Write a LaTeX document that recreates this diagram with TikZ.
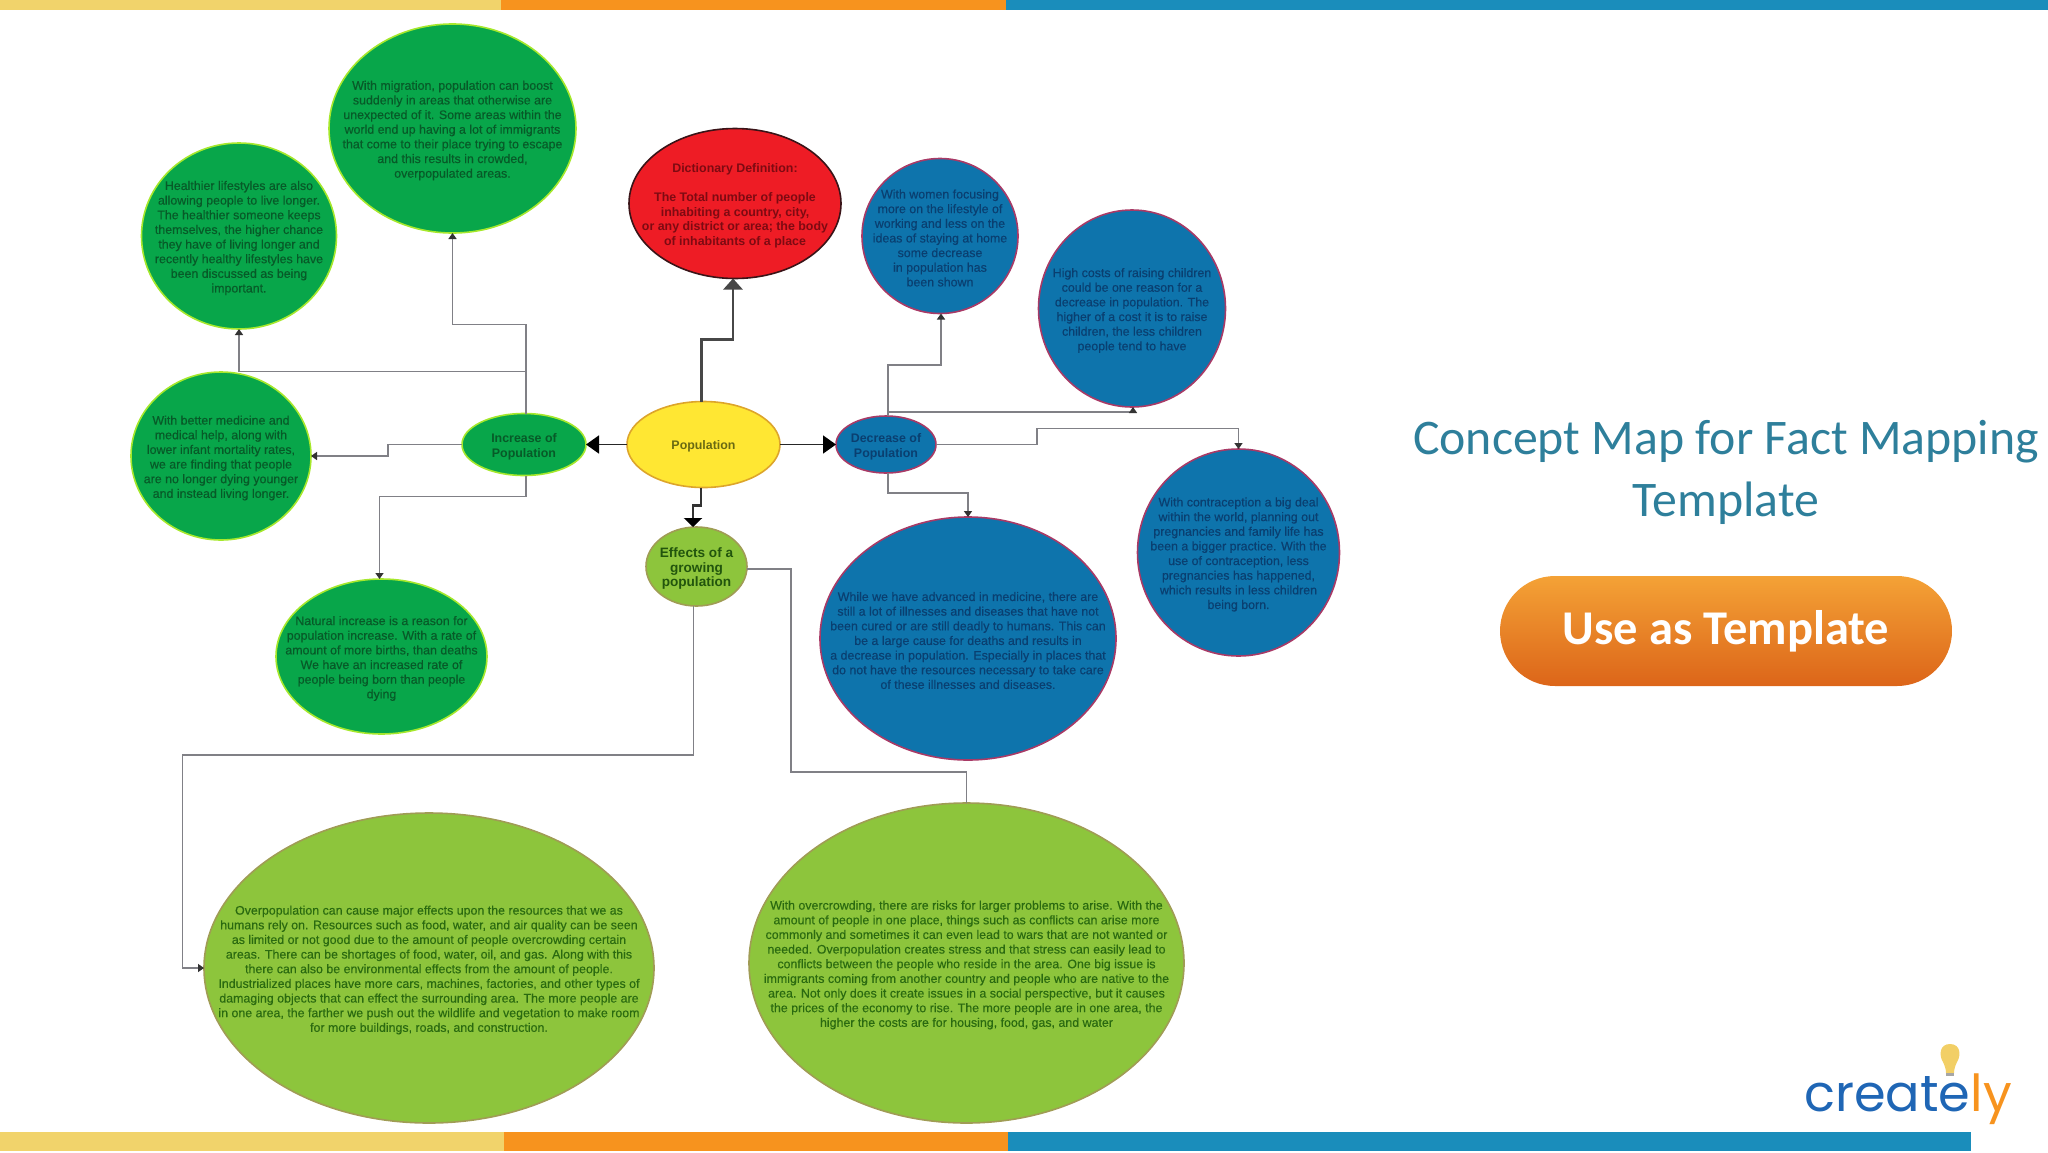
\documentclass[tikz,border=0pt]{standalone}
\usepackage{fontspec}
\setmainfont{Liberation Sans}
\newfontfamily\bodyfont[FakeBold=0.35]{Liberation Sans}
\newfontfamily\carlito{Carlito}
\newfontfamily\logofont{Poppins}
\usetikzlibrary{shapes.geometric,arrows.meta}
\definecolor{barY}{HTML}{F1D36B}
\definecolor{barO}{HTML}{F7931E}
\definecolor{barB}{HTML}{1A8DBB}
\definecolor{grn}{HTML}{08A64A}
\definecolor{grnE}{HTML}{A6E82C}
\definecolor{grnT}{HTML}{075A28}
\definecolor{blu}{HTML}{0E74AC}
\definecolor{bluE}{HTML}{A83A66}
\definecolor{bluT}{HTML}{0A3F70}
\definecolor{redF}{HTML}{EE1C25}
\definecolor{redE}{HTML}{3A1418}
\definecolor{redT}{HTML}{7E0A12}
\definecolor{yel}{HTML}{FFE733}
\definecolor{yelE}{HTML}{DDA52B}
\definecolor{yelT}{HTML}{6A6A12}
\definecolor{lim}{HTML}{8DC53C}
\definecolor{limE}{HTML}{A09C55}
\definecolor{limT}{HTML}{2A6A10}
\definecolor{line}{HTML}{808086}
\definecolor{titleC}{HTML}{2E7F9B}
\definecolor{btnT}{HTML}{F4A236}
\definecolor{btnM}{HTML}{E9801F}
\definecolor{btnB}{HTML}{DC6519}
\tikzset{
  x=1pt,y=-1pt,
  ell/.style n args={2}{shape=ellipse,inner sep=0pt,outer sep=0pt,minimum width=#1*2pt,minimum height=#2*2pt,line width=1.6pt},
  greenE/.style={fill=grn,draw=grnE},
  blueE/.style={fill=blu,draw=bluE},
  redEl/.style={fill=redF,draw=redE},
  yellowE/.style={fill=yel,draw=yelE},
  limeE/.style={fill=lim,draw=limE},
  body/.style={align=center,inner sep=0pt,yshift=-2pt,font=\bodyfont\fontsize{12.4}{14.65}\selectfont},
  boldt/.style={align=center,inner sep=0pt,yshift=-2pt,font=\fontsize{12.4}{14.65}\selectfont\bfseries},
  conn/.style={draw=line,line width=1.7pt,-{Triangle[length=6pt,width=8pt,color=black!80]}},
  plain/.style={draw=line,line width=1.7pt},
  heavy/.style={draw=black!72,line width=2.6pt,-{Triangle[length=11pt,width=19pt]}},
  mid/.style={draw=black!85,line width=1.6pt,-{Triangle[length=13pt,width=18pt,color=black]}},
  midb/.style={draw=black!80,line width=2.2pt,-{Triangle[length=9pt,width=18pt,color=black]}},
}
\begin{document}
\begin{tikzpicture}
\useasboundingbox (0,0) rectangle (2048,1152);
% bars
\fill[barY] (0,0) rectangle (501,10);
\fill[barO] (501,0) rectangle (1006,10);
\fill[barB] (1006,0) rectangle (2048,10);
\fill[barY] (0,1132) rectangle (504,1151);
\fill[barO] (504,1132) rectangle (1008,1151);
\fill[barB] (1008,1132) rectangle (1971,1151);
% ellipses
\node[ell={123.5}{104.5},greenE] (migr) at (452.5,128.5) {};
\node[ell={97.5}{93},greenE] (healthy) at (239,236) {};
\node[ell={90}{84},greenE] (medic) at (221,456) {};
\node[ell={62}{31},greenE] (incr) at (524,444.5) {};
\node[ell={105.5}{77.5},greenE] (natural) at (381.5,656.5) {};
\node[ell={106}{75},redEl] (dict) at (735,203.5) {};
\node[ell={76.5}{43},yellowE] (pop) at (703.5,444.5) {};
\node[ell={50}{28.5},blueE] (decr) at (886,444.5) {};
\node[ell={78}{77.5},blueE] (women) at (940,236) {};
\node[ell={93.5}{98.5},blueE] (costs) at (1132,308.5) {};
\node[ell={148}{121.5},blueE] (disease) at (968,638.5) {};
\node[ell={101}{103.5},blueE] (contra) at (1238.5,552.5) {};
\node[ell={50.5}{39.5},limeE] (effects) at (696.5,566.5) {};
\node[ell={225}{155},limeE] (overpop) at (429,968) {};
\node[ell={217.5}{160},limeE] (overcr) at (966.5,963) {};
% connectors
\draw[heavy] ([xshift=-2pt]pop.north) -- ++(0,-62) -| ([xshift=-2pt]dict.south);
\draw[mid] (pop.west) -- (incr.east);
\draw[mid] (pop.east) -- (decr.west);
\draw[midb] ([xshift=-2.5pt]pop.south) -- ++(0,18) -| ([xshift=-3.5pt]effects.north);
\draw[conn] ([xshift=2pt]incr.north) -- ++(0,-89) -| (migr.south);
\draw[conn] ([xshift=2pt]incr.north) -- ++(0,-42) -| (healthy.south);
\draw[conn] (incr.west) -- ++(-74,0) |- (medic.east);
\draw[conn] ([xshift=2pt]incr.south) -- ++(0,21) -| ([xshift=-2pt]natural.north);
\draw[conn] ([xshift=2pt]decr.north) -- ++(0,-51) -| ([xshift=1pt]women.south);
\draw[conn] ([xshift=2pt]decr.north) -- ++(0,-4) -| ([xshift=1pt]costs.south);
\draw[conn] (decr.east) -- ++(101,0) -- ++(0,-16) -| (contra.north);
\draw[conn] ([xshift=2pt]decr.south) -- ++(0,20) -| (disease.north);
\draw[conn] ([xshift=-3pt]effects.south) -- ++(0,149) -- ++(-511,0) |- (overpop.west);
\draw[plain] ([yshift=-2.5pt]effects.east) -- ++(44,0) -- ++(0,203) -| (overcr.north);
% texts
\node[body,text=grnT] (tmigr) at (migr) {With migration, population can boost\\suddenly in areas that otherwise are\\unexpected of it. Some areas within the\\world end up having a lot of immigrants\\that come to their place trying to escape\\and this results in crowded,\\overpopulated areas.};
\node[body,text=grnT] (thealthy) at (healthy) {Healthier lifestyles are also\\allowing people to live longer.\\The healthier someone keeps\\themselves, the higher chance\\they have of living longer and\\recently healthy lifestyles have\\been discussed as being\\important.};
\node[body,text=grnT] (tmedic) at (medic) {With better medicine and\\medical help, along with\\lower infant mortality rates,\\we are finding that people\\are no longer dying younger\\and instead living longer.};
\node[boldt,text=grnT] (tincr) at (incr) {Increase of\\Population};
\node[body,text=grnT] (tnatural) at (natural) {Natural increase is a reason for\\population increase. With a rate of\\amount of more births, than deaths\\We have an increased rate of\\people being born than people\\dying};
\node[boldt,text=redT] (tdict) at (dict) {Dictionary Definition:\\[14.65pt]The Total number of people\\inhabiting a country, city,\\or any district or area; the body\\of inhabitants of a place};
\node[boldt,text=yelT] (tpop) at (pop) {Population};
\node[boldt,text=bluT] (tdecr) at (decr) {Decrease of\\Population};
\node[body,text=bluT] (twomen) at (women) {With women focusing\\more on the lifestyle of\\working and less on the\\ideas of staying at home\\some decrease\\in population has\\been shown};
\node[body,text=bluT] (tcosts) at (costs) {High costs of raising children\\could be one reason for a\\decrease in population. The\\higher of a cost it is to raise\\children, the less children\\people tend to have};
\node[body,text=bluT] (tdisease) at (disease) {While we have advanced in medicine, there are\\still a lot of illnesses and diseases that have not\\been cured or are still deadly to humans. This can\\be a large cause for deaths and results in\\a decrease in population. Especially in places that\\do not have the resources necessary to take care\\of these illnesses and diseases.};
\node[body,text=bluT] (tcontra) at (contra) {With contraception a big deal\\within the world, planning out\\pregnancies and family life has\\been a bigger practice. With the\\use of contraception, less\\pregnancies has happened,\\which results in less children\\being born.};
\node[boldt,text=limT!80!black,font=\fontsize{13.6}{14.65}\selectfont\bfseries] (teffects) at (effects) {Effects of a\\growing\\population};
\node[body,text=limT] (toverpop) at (overpop) {Overpopulation can cause major effects upon the resources that we as\\humans rely on. Resources such as food, water, and air quality can be seen\\as limited or not good due to the amount of people overcrowding certain\\areas. There can be shortages of food, water, oil, and gas. Along with this\\there can also be environmental effects from the amount of people.\\Industrialized places have more cars, machines, factories, and other types of\\damaging objects that can effect the surrounding area. The more people are\\in one area, the farther we push out the wildlife and vegetation to make room\\for more buildings, roads, and construction.};
\node[body,text=limT] (tovercr) at (overcr) {With overcrowding, there are risks for larger problems to arise. With the\\amount of people in one place, things such as conflicts can arise more\\commonly and sometimes it can even lead to wars that are not wanted or\\needed. Overpopulation creates stress and that stress can easily lead to\\conflicts between the people who reside in the area. One big issue is\\immigrants coming from another country and people who are native to the\\area. Not only does it create issues in a social perspective, but it causes\\the prices of the economy to rise. The more people are in one area, the\\higher the costs are for housing, food, gas, and water};
% right panel
\node[align=center,inner sep=0pt,text=titleC,font=\carlito\fontsize{49.8}{62}\selectfont] (title) at (1726,472) {Concept Map for Fact Mapping\\Template};
\node[rounded corners=55pt,minimum width=452pt,minimum height=110pt,inner sep=0pt,top color=btnT,middle color=btnM,bottom color=btnB,text=white,font=\carlito\fontsize{48.5}{50}\selectfont\bfseries] (button) at (1726,631) {Use as Template};
% logo
\path[fill=barY!95!orange] (1950,1044) .. controls (1939,1044) and (1939,1056) .. (1943,1062) .. controls (1945,1066) and (1946,1070) .. (1946,1073) -- (1954,1073) .. controls (1954,1070) and (1955,1066) .. (1957,1062) .. controls (1961,1056) and (1961,1044) .. (1950,1044) -- cycle;
\fill[black!35] (1946,1073) rectangle (1954,1076);
\node[anchor=base west,inner sep=0pt,font=\logofont\fontsize{51}{51}\selectfont] (logo) at (1804,1111) {\textcolor[HTML]{1F66B5}{create}\textcolor{barO}{ly}};
\end{tikzpicture}
\end{document}
